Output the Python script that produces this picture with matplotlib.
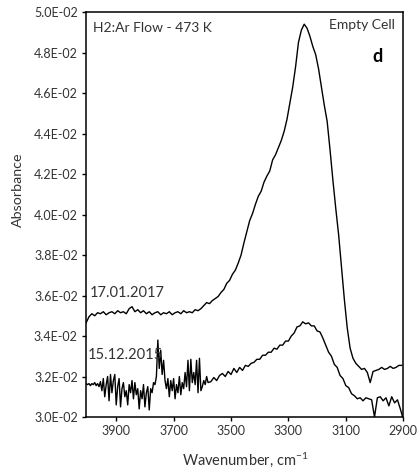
import numpy as np
import matplotlib
matplotlib.use('Agg')
from matplotlib import pyplot as plt
from matplotlib.ticker import FuncFormatter

plt.rcParams['font.family'] = ['Lato', 'DejaVu Sans']
plt.rcParams['mathtext.default'] = 'regular'

# 17.01.2017 spectrum, 4005 -> 2905 cm-1 every 10 cm-1 (values x 1e-2)
upper_vals = [
    3.465, 3.495, 3.51, 3.50, 3.515, 3.51, 3.52, 3.505, 3.515, 3.52,
    3.51, 3.525, 3.515, 3.52, 3.51, 3.535, 3.545, 3.52, 3.53, 3.515,
    3.525, 3.51, 3.52, 3.505, 3.515, 3.52, 3.505, 3.515, 3.51, 3.52,
    3.505, 3.515, 3.52, 3.51, 3.525, 3.515, 3.52, 3.515, 3.53, 3.525,
    3.535, 3.55, 3.565, 3.56, 3.575, 3.585, 3.595, 3.615, 3.63, 3.66,
    3.675, 3.705, 3.725, 3.76, 3.80, 3.86, 3.915, 3.97, 4.005, 4.05,
    4.09, 4.115, 4.16, 4.19, 4.215, 4.27, 4.295, 4.33, 4.365, 4.41,
    4.47, 4.55, 4.63, 4.73, 4.85, 4.91, 4.94, 4.92, 4.88, 4.83,
    4.79, 4.72, 4.63, 4.54, 4.46, 4.32, 4.17, 4.03, 3.90, 3.74,
    3.58, 3.44, 3.34, 3.29, 3.265, 3.25, 3.235, 3.24, 3.22, 3.17,
    3.225, 3.23, 3.235, 3.245, 3.235, 3.24, 3.25, 3.24, 3.245, 3.255,
    3.255,
]
upper_wn = np.arange(4005, 2900, -10)[:len(upper_vals)]

# 15.12.2015 spectrum, noisy part 4005 -> 3580 every 5 cm-1
lower_noisy = [
    3.165, 3.16, 3.165, 3.155, 3.165, 3.16, 3.17, 3.155, 3.165, 3.15,
    3.175, 3.13, 3.19, 3.10, 3.16, 3.20, 3.08, 3.21, 3.12, 3.18,
    3.21, 3.06, 3.15, 3.19, 3.05, 3.14, 3.17, 3.10, 3.13, 3.06,
    3.16, 3.12, 3.18, 3.09, 3.17, 3.11, 3.14, 3.04, 3.13, 3.09,
    3.16, 3.05, 3.12, 3.15, 3.035, 3.14, 3.12, 3.17, 3.16, 3.20,
    3.38, 3.24, 3.33, 3.21, 3.28, 3.18, 3.14, 3.19, 3.10, 3.18,
    3.13, 3.19, 3.09, 3.16, 3.12, 3.20, 3.11, 3.17, 3.14, 3.22,
    3.15, 3.28, 3.13, 3.285, 3.17, 3.22, 3.16, 3.28, 3.12, 3.29,
    3.13, 3.15, 3.18, 3.16, 3.20, 3.17,
]
# then 3570 -> 2900 every 10 cm-1
lower_smooth = [
    3.175, 3.195, 3.18, 3.205, 3.215, 3.2, 3.225, 3.21, 3.24, 3.22,
    3.245, 3.23, 3.255, 3.25, 3.265, 3.27, 3.285, 3.285, 3.305, 3.305,
    3.32, 3.32, 3.34, 3.335, 3.355, 3.355, 3.375, 3.375, 3.4, 3.415,
    3.445, 3.45, 3.47, 3.46, 3.465, 3.45, 3.45, 3.425, 3.42, 3.39,
    3.355, 3.32, 3.3, 3.26, 3.245, 3.205, 3.19, 3.155, 3.145, 3.115,
    3.105, 3.09, 3.095, 3.08, 3.095, 3.09, 3.085, 3.00, 3.095, 3.10,
    3.08, 3.095, 3.055, 3.1, 3.07, 3.085, 3.04, 2.99,
]
lower_wn = np.r_[np.arange(4005, 3579, -5)[:len(lower_noisy)],
                 np.arange(3570, 2899, -10)[:len(lower_smooth)]]
lower_vals = lower_noisy + lower_smooth

x_ticks = [3900, 3700, 3500, 3300, 3100, 2900]
y_ticks = [0.030, 0.032, 0.034, 0.036, 0.038, 0.040, 0.042, 0.044, 0.046, 0.048, 0.050]

fig = plt.figure(figsize=(4.2, 4.72), dpi=100)
ax = fig.add_axes([0.205, 0.1165, 0.755, 0.858])

ax.plot(upper_wn, np.array(upper_vals) * 1e-2, color='black', lw=1.0)
ax.plot(lower_wn[:len(lower_vals)], np.array(lower_vals) * 1e-2, color='black', lw=1.0)

ax.set_xlim(4005, 2900)
ax.set_ylim(0.030, 0.050)
ax.set_xticks(x_ticks)
ax.set_yticks(y_ticks)
ax.yaxis.set_major_formatter(FuncFormatter(lambda v, p: '{:.1E}'.format(v)))
ax.tick_params(direction='out', length=3, width=1, labelsize=9, colors='black',
               labelcolor='#333333', pad=3)
for s in ax.spines.values():
    s.set_linewidth(1.1)

ax.text(0.022, 0.960, 'H2:Ar Flow - 473 K', transform=ax.transAxes, fontsize=10,
        va='center', ha='left', color='#333333')
ax.text(0.975, 0.968, 'Empty Cell', transform=ax.transAxes, fontsize=10,
        va='center', ha='right', color='#333333')
ax.text(0.918, 0.889, 'd', transform=ax.transAxes, fontsize=13, fontweight='bold',
        va='center', ha='center')
ax.text(0.013, 0.306, '17.01.2017', transform=ax.transAxes, fontsize=10.5,
        va='center', ha='left', color='#333333')
ax.text(0.006, 0.153, '15.12.2015', transform=ax.transAxes, fontsize=10.5,
        va='center', ha='left', color='#333333')

fig.text(18 / 420, 1 - 190 / 472, 'Absorbance', rotation=90, fontsize=10.3,
         ha='center', va='center', color='#333333')
fig.text(245 / 420, 1 - 460 / 472, 'Wavenumber, cm$^{-1}$', fontsize=10.5,
         ha='center', va='center', color='#333333')

fig.savefig('out.png', dpi=100)
